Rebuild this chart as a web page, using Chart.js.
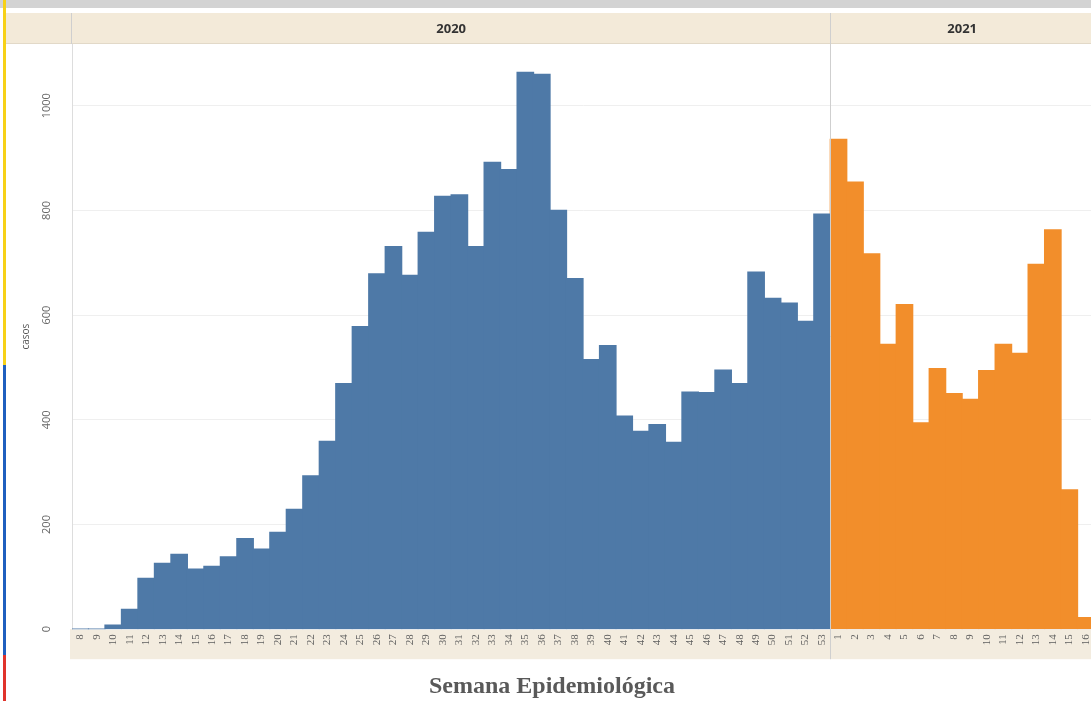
<!DOCTYPE html>
<html>
<head>
<meta charset="utf-8">
<script src="https://cdn.jsdelivr.net/npm/chart.js@4/dist/chart.umd.min.js"></script>
<style>
  html, body { margin: 0; padding: 0; background: #fff; overflow: hidden; width: 1091px; height: 701px; }
  #c { display: block; }
</style>
</head>
<body>
<canvas id="c" width="1104" height="701"></canvas>
<script>
// ---- data ----
const weeks2020 = ["8","9","10","11","12","13","14","15","16","17","18","19","20","21","22","23","24","25","26","27","28","29","30","31","32","33","34","35","36","37","38","39","40","41","42","43","44","45","46","47","48","49","50","51","52","53"];
const cases2020 = [0,0,8,38,97,126,143,115,120,138,173,153,185,229,293,359,469,578,679,731,676,758,827,830,731,892,878,1064,1060,800,670,515,542,407,378,391,357,453,452,495,469,682,632,623,588,793];
const weeks2021 = ["1","2","3","4","5","6","7","8","9","10","11","12","13","14","15","16"];
const cases2021 = [936,854,717,544,620,394,498,450,439,494,544,527,697,763,266,22];
const yearLabels = ["2020","2021"];
const yTicksStep = 200;
const yMax = 1118;
const xTitle = "Semana Epidemiológica";
const yTitle = "casos";

const labels = weeks2020.concat(weeks2021);
const data2020 = cases2020.concat(weeks2021.map(() => null));
const data2021 = weeks2020.map(() => null).concat(cases2021);

const decor = {
  id: 'decor',
  beforeDraw(chart) {
    const ctx = chart.ctx, ca = chart.chartArea, W = chart.width, H = chart.height;
    const xs = chart.scales.x;
    ctx.save();
    ctx.fillStyle = '#ffffff';
    ctx.fillRect(0, 0, W, H);
    ctx.fillStyle = '#d3d3d3';
    ctx.fillRect(0, 0, W, 8);
    ctx.fillStyle = '#f3ead9';
    ctx.fillRect(5, 13, W - 5, ca.top - 13);
    ctx.fillStyle = '#e2d9c8';
    ctx.fillRect(5, ca.top - 1, W - 5, 1);
    ctx.fillStyle = '#f3ecdf';
    ctx.fillRect(ca.left - 2, ca.bottom, W - ca.left + 2, xs.bottom - ca.bottom);
    ctx.fillStyle = '#f7d117';
    ctx.fillRect(3, 0, 3, 365);
    ctx.fillStyle = '#1f5fbf';
    ctx.fillRect(3, 365, 3, 290);
    ctx.fillStyle = '#e0332b';
    ctx.fillRect(3, 655, 3, H - 655);
    ctx.restore();
  },
  afterDraw(chart) {
    const ctx = chart.ctx, ca = chart.chartArea;
    const xs = chart.scales.x;
    const n = weeks2020.length;
    const boundary = (xs.getPixelForValue(n - 1) + xs.getPixelForValue(n)) / 2;
    ctx.save();
    ctx.strokeStyle = '#cfcfcf';
    ctx.lineWidth = 1;
    ctx.beginPath();
    ctx.moveTo(Math.round(boundary) + 0.5, 13);
    ctx.lineTo(Math.round(boundary) + 0.5, xs.bottom);
    ctx.moveTo(Math.round(ca.left) - 0.5, 13);
    ctx.lineTo(Math.round(ca.left) - 0.5, ca.top);
    ctx.stroke();
    ctx.fillStyle = '#333333';
    ctx.font = 'bold 13px "Open Sans", "DejaVu Sans", sans-serif';
    ctx.textAlign = 'center';
    ctx.textBaseline = 'middle';
    const yMid = (13 + ca.top) / 2 + 1;
    ctx.fillText(yearLabels[0], (ca.left + boundary) / 2, yMid);
    ctx.fillText(yearLabels[1], (boundary + ca.right) / 2, yMid);
    ctx.restore();
  }
};

new Chart(document.getElementById('c'), {
  type: 'bar',
  data: {
    labels: labels,
    datasets: [
      { label: yearLabels[0], data: data2020, backgroundColor: '#4e79a7', grouped: false,
        barPercentage: 1, categoryPercentage: 1, borderWidth: 0, inflateAmount: 0.6 },
      { label: yearLabels[1], data: data2021, backgroundColor: '#f28e2b', grouped: false,
        barPercentage: 1, categoryPercentage: 1, borderWidth: 0, inflateAmount: 0.6 }
    ]
  },
  options: {
    responsive: false,
    animation: false,
    devicePixelRatio: 1,
    layout: { padding: { top: 44, left: 0, right: 0, bottom: 0 } },
    plugins: {
      legend: { display: false },
      tooltip: { enabled: false },
      title: {
        display: true, position: 'bottom', text: xTitle,
        color: '#595959',
        font: { family: '"Liberation Serif", "DejaVu Serif", serif', size: 24, weight: 'bold' },
        padding: { top: 13, bottom: 0 }
      }
    },
    scales: {
      x: {
        grid: { display: false, drawTicks: false },
        border: { display: false },
        ticks: {
          autoSkip: false, minRotation: 90, maxRotation: 90, padding: 5,
          color: '#5e5e5e',
          font: { family: '"Liberation Serif", "DejaVu Serif", serif', size: 11 }
        },
        afterFit(s) { s.height = 30; }
      },
      y: {
        min: 0, max: yMax,
        grid: { color: '#efefef', drawTicks: false },
        border: { display: true, color: '#dddddd' },
        ticks: {
          stepSize: yTicksStep, includeBounds: false,
          minRotation: 90, maxRotation: 90, crossAlign: 'center', padding: 13,
          color: '#666666',
          font: { family: '"Open Sans", "DejaVu Sans", sans-serif', size: 11 },
          callback: (v) => String(v)
        },
        title: {
          display: true, text: yTitle, color: '#555555',
          font: { family: '"Open Sans", "DejaVu Sans", sans-serif', size: 10 },
          padding: { top: 20, bottom: 0 }
        },
        afterFit(s) { s.width = 72; }
      }
    }
  },
  plugins: [decor]
});
</script>
</body>
</html>
